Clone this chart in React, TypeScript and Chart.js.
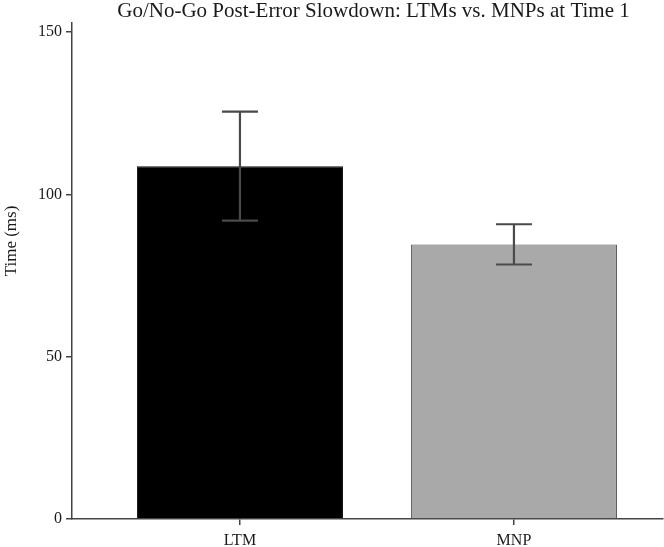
import React, { useEffect, useRef } from "react";
import { Chart, registerables } from "chart.js";

Chart.register(...registerables);

const categories = ["LTM", "MNP"];
const means = [108.7, 84.6];
const errors = [16.8, 6.2];
const barColors = ["#000000", "#a9a9a9"];
const barBorders = ["#111111", "#555555"];
const yTicks = [0, 50, 100, 150];
const titleText = "Go/No-Go Post-Error Slowdown: LTMs vs. MNPs at Time 1";
const yTitleText = "Time (ms)";

const FONT = "'Liberation Serif', 'Times New Roman', serif";
const AXIS_COLOR = "#444444";

const errorBarPlugin = {
  id: "errorBars",
  afterDatasetsDraw(chart: any) {
    const meta = chart.getDatasetMeta(0);
    const y = chart.scales.y;
    const ctx = chart.ctx;
    ctx.save();
    ctx.strokeStyle = "#4a4a4a";
    ctx.lineWidth = 2.2;
    meta.data.forEach((bar: any, i: number) => {
      const x = bar.x;
      const top = y.getPixelForValue(means[i] + errors[i]);
      const bot = y.getPixelForValue(means[i] - errors[i]);
      const cap = 18;
      ctx.beginPath();
      ctx.moveTo(x, top);
      ctx.lineTo(x, bot);
      ctx.moveTo(x - cap, top);
      ctx.lineTo(x + cap, top);
      ctx.moveTo(x - cap, bot);
      ctx.lineTo(x + cap, bot);
      ctx.stroke();
    });
    ctx.restore();
  },
};

const textPlugin = {
  id: "texts",
  afterDraw(chart: any) {
    const ctx = chart.ctx;
    const area = chart.chartArea;
    ctx.save();
    ctx.fillStyle = "#1a1a1a";
    ctx.font = `21px ${FONT}`;
    ctx.textAlign = "center";
    ctx.textBaseline = "alphabetic";
    ctx.fillText(titleText, (area.left + area.right) / 2 + 6, 17);
    ctx.translate(12, 241);
    ctx.rotate(-Math.PI / 2);
    ctx.textBaseline = "middle";
    ctx.font = `17px ${FONT}`;
    ctx.fillText(yTitleText, 0, 0);
    ctx.restore();
  },
};

export default function App() {
  const ref = useRef<HTMLCanvasElement | null>(null);
  useEffect(() => {
    document.body.style.margin = "0";
    const canvas = ref.current!;
    const chart = new Chart(canvas, {
      type: "bar",
      data: {
        datasets: [
          {
            data: means.map((m, i) => ({ x: i, y: m })),
            backgroundColor: barColors,
            borderColor: barBorders,
            borderWidth: 1,
            barPercentage: 0.752,
            categoryPercentage: 1,
          },
        ],
      },
      options: {
        responsive: false,
        animation: false,
        layout: { padding: { top: 23, right: 1, left: 0, bottom: 0 } },
        plugins: {
          legend: { display: false },
          tooltip: { enabled: false },
          title: { display: false },
        },
        scales: {
          x: {
            type: "linear",
            offset: false,
            min: -0.613,
            max: 1.544,
            afterBuildTicks: (scale: any) => {
              scale.ticks = categories.map((_, i) => ({ value: i }));
            },
            afterFit: (scale: any) => {
              scale.height = 28;
            },
            ticks: {
              callback: (v: any) => categories[v as number] ?? "",
              font: { family: FONT, size: 16 },
              color: "#1a1a1a",
              padding: 6,
              maxRotation: 0,
              autoSkip: false,
            },
            grid: {
              offset: false,
              drawOnChartArea: false,
              tickLength: 6,
              color: AXIS_COLOR,
              lineWidth: 1.5,
            },
            border: { display: true, color: AXIS_COLOR, width: 1.5 },
          },
          y: {
            min: 0,
            max: 152.8,
            afterBuildTicks: (scale: any) => {
              scale.ticks = yTicks.map((v) => ({ value: v }));
            },
            afterFit: (scale: any) => {
              scale.width = 72;
            },
            ticks: {
              font: { family: FONT, size: 16 },
              color: "#1a1a1a",
              padding: 4,
            },
            grid: {
              drawOnChartArea: false,
              tickLength: 6,
              color: AXIS_COLOR,
              lineWidth: 1.5,
            },
            border: { display: true, color: AXIS_COLOR, width: 1.5 },
          },
        },
      },
      plugins: [errorBarPlugin, textPlugin],
    } as any);
    return () => chart.destroy();
  }, []);
  return (
    <div style={{ width: 664, height: 547, background: "#fff" }}>
      <canvas ref={ref} width={664} height={547} />
    </div>
  );
}
